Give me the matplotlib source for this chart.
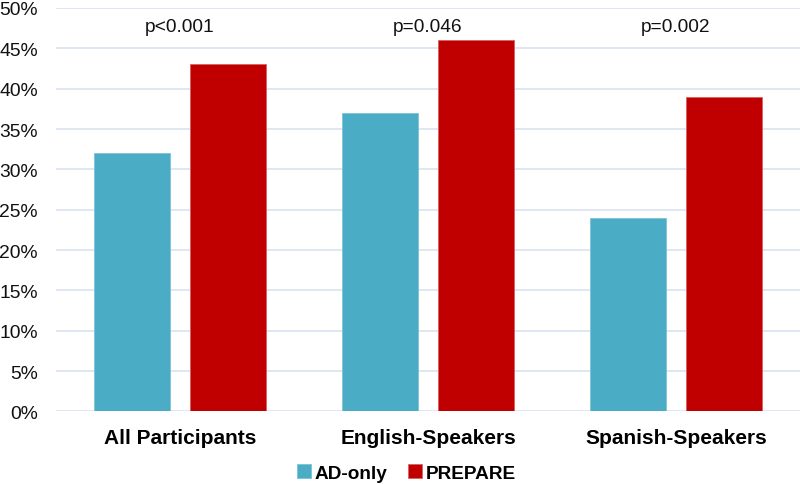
import matplotlib
matplotlib.use("Agg")
import matplotlib.pyplot as plt
import numpy as np
from matplotlib.ticker import FuncFormatter, MultipleLocator

categories = ["All Participants", "English-Speakers", "Spanish-Speakers"]
ad_only = [32, 37, 24]
prepare = [43, 46, 39]
p_values = ["p<0.001", "p=0.046", "p=0.002"]

plt.rcParams['font.family'] = ['Liberation Sans', 'DejaVu Sans']

fig = plt.figure(figsize=(8, 4.85), dpi=100)
ax = fig.add_axes([0.07, 0.1495, 0.93, 0.832])

x = np.arange(len(categories))
w = 0.307
off = 0.192
teal = "#4BACC6"
red = "#C00000"
ax.bar(x - off, ad_only, w, color=teal, edgecolor="#7CC3D6", linewidth=0.6, label="AD-only", zorder=3)
ax.bar(x + off, prepare, w, color=red, edgecolor="#D96060", linewidth=0.6, label="PREPARE", zorder=3)

for xi, p in zip(x, p_values):
    ax.text(xi, 47.1, p, ha="center", va="baseline", fontsize=13.8, color="#111111")

ax.set_xlim(-0.5, 2.5)
ax.set_ylim(0, 50)
ax.yaxis.set_major_locator(MultipleLocator(5))
ax.yaxis.set_major_formatter(FuncFormatter(lambda v, _: f"{int(round(v))}%"))
ax.grid(axis="y", color="#D9E3F1", linewidth=1.2, zorder=0)
for s in ax.spines.values():
    s.set_visible(False)
ax.tick_params(axis="both", length=0)
ax.tick_params(axis="y", labelsize=13.9, pad=13, colors="#111111")
ax.set_xticks(x)
ax.set_xticklabels(categories, fontsize=15, fontweight="bold")
ax.tick_params(axis="x", pad=12)

leg = fig.legend(loc="center", bbox_to_anchor=(0.508, 1 - 474 / 485), ncol=2, frameon=False,
                 prop={"weight": "bold", "size": 13.7}, handlelength=0.7, handleheight=0.7,
                 handletextpad=0.2, columnspacing=1.1)

fig.savefig("out.png", dpi=100)
